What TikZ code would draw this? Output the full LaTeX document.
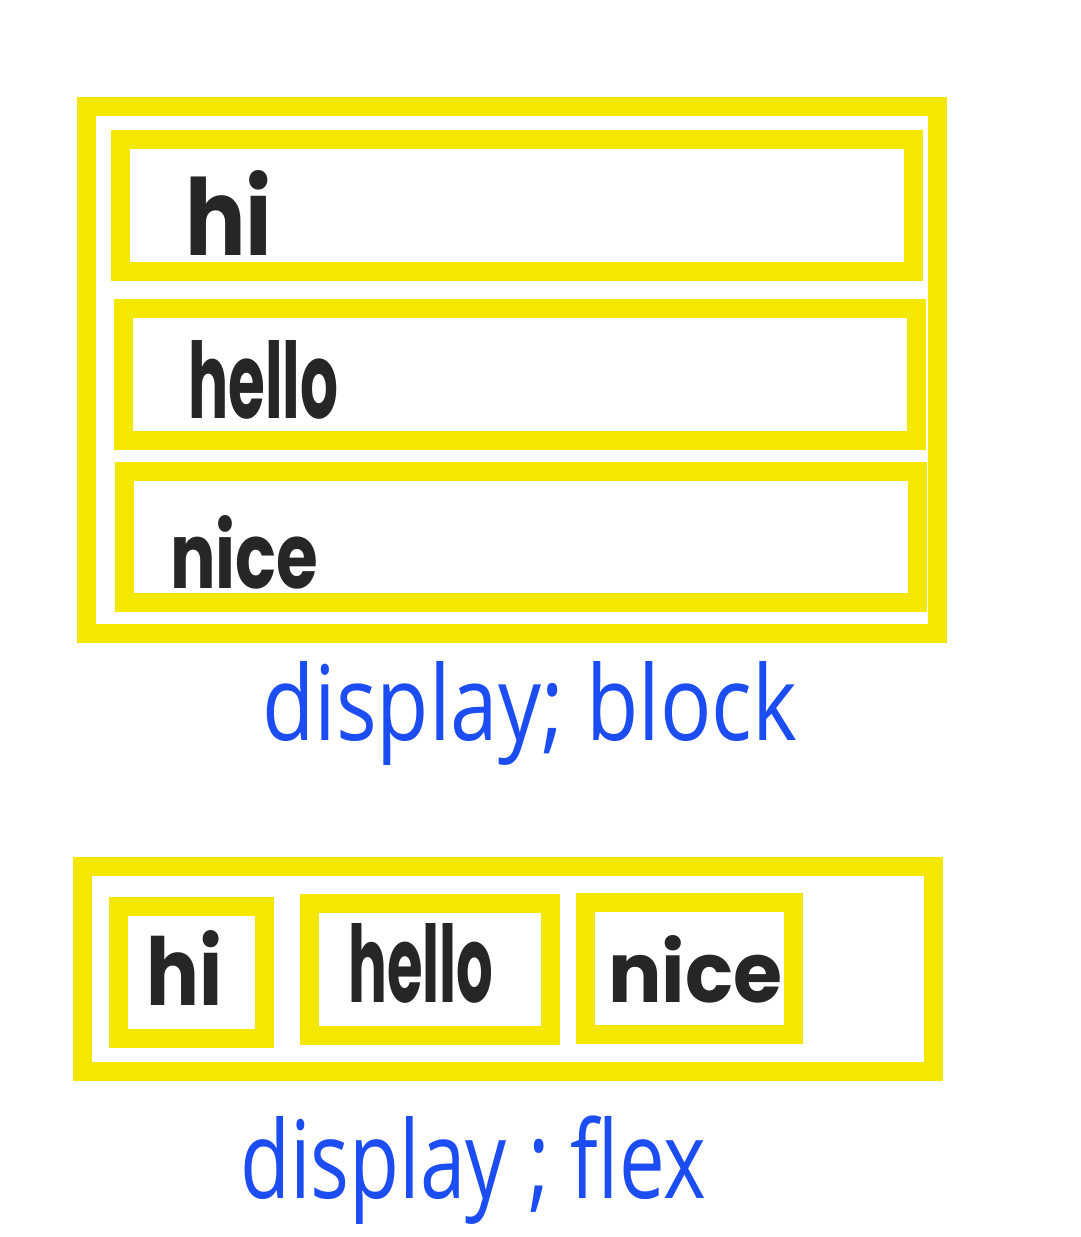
\documentclass[tikz,border=0pt]{standalone}
\usepackage{fontspec}
\usepackage{graphicx}
\setmainfont{Poppins}
\newfontfamily\capfont{Open Sans}
\definecolor{hiyellow}{HTML}{F5E800}
\definecolor{inkblack}{HTML}{262626}
\definecolor{inkblue}{HTML}{1C4DF2}
\tikzset{
  frame/.style={draw=hiyellow, line width=19pt},
  word/.style={inner sep=0pt, anchor=north west, text=inkblack, font=\bfseries},
  caption/.style={inner sep=0pt, anchor=base west, text=inkblue, font=\capfont},
}
\begin{document}
\begin{tikzpicture}[x=1pt,y=-1pt]
\useasboundingbox[fill=white] (0,0) rectangle (1080,1237);
% display: block
\draw[frame] (86.5,106.5) rectangle (937.5,633);
\draw[frame] (120,139.5) rectangle (913,271.5);
\draw[frame] (123.5,308.5) rectangle (916,440.5);
\draw[frame] (124.5,471) rectangle (917,602);
\node[word] (bhi) at (185,170) {\resizebox{87pt}{85pt}{hi}};
\node[word] (bhello) at (188,340) {\resizebox{150pt}{78pt}{hello}};
\node[word] (bnice) at (170,515) {\resizebox{148pt}{73pt}{nice}};
\node[caption] (cblock) at (262,740) {\resizebox{535pt}{\height}{\fontsize{104}{104}\selectfont display; block}};
% display: flex
\draw[frame] (82.5,866.5) rectangle (933.5,1071.5);
\draw[frame] (118.5,906.5) rectangle (264.5,1038.5);
\draw[frame] (309.5,903.5) rectangle (550.5,1035.5);
\draw[frame] (585,902.5) rectangle (793.5,1034.5);
\node[word] (fhi) at (146,930) {\resizebox{76pt}{75pt}{hi}};
\node[word] (fhello) at (348,923) {\resizebox{145pt}{79pt}{hello}};
\node[word] (fnice) at (608,935) {\resizebox{174pt}{67pt}{nice}};
\node[caption] (cflex) at (240,1198) {\resizebox{466pt}{\height}{\fontsize{108}{108}\selectfont display ; flex}};
\end{tikzpicture}
\end{document}
